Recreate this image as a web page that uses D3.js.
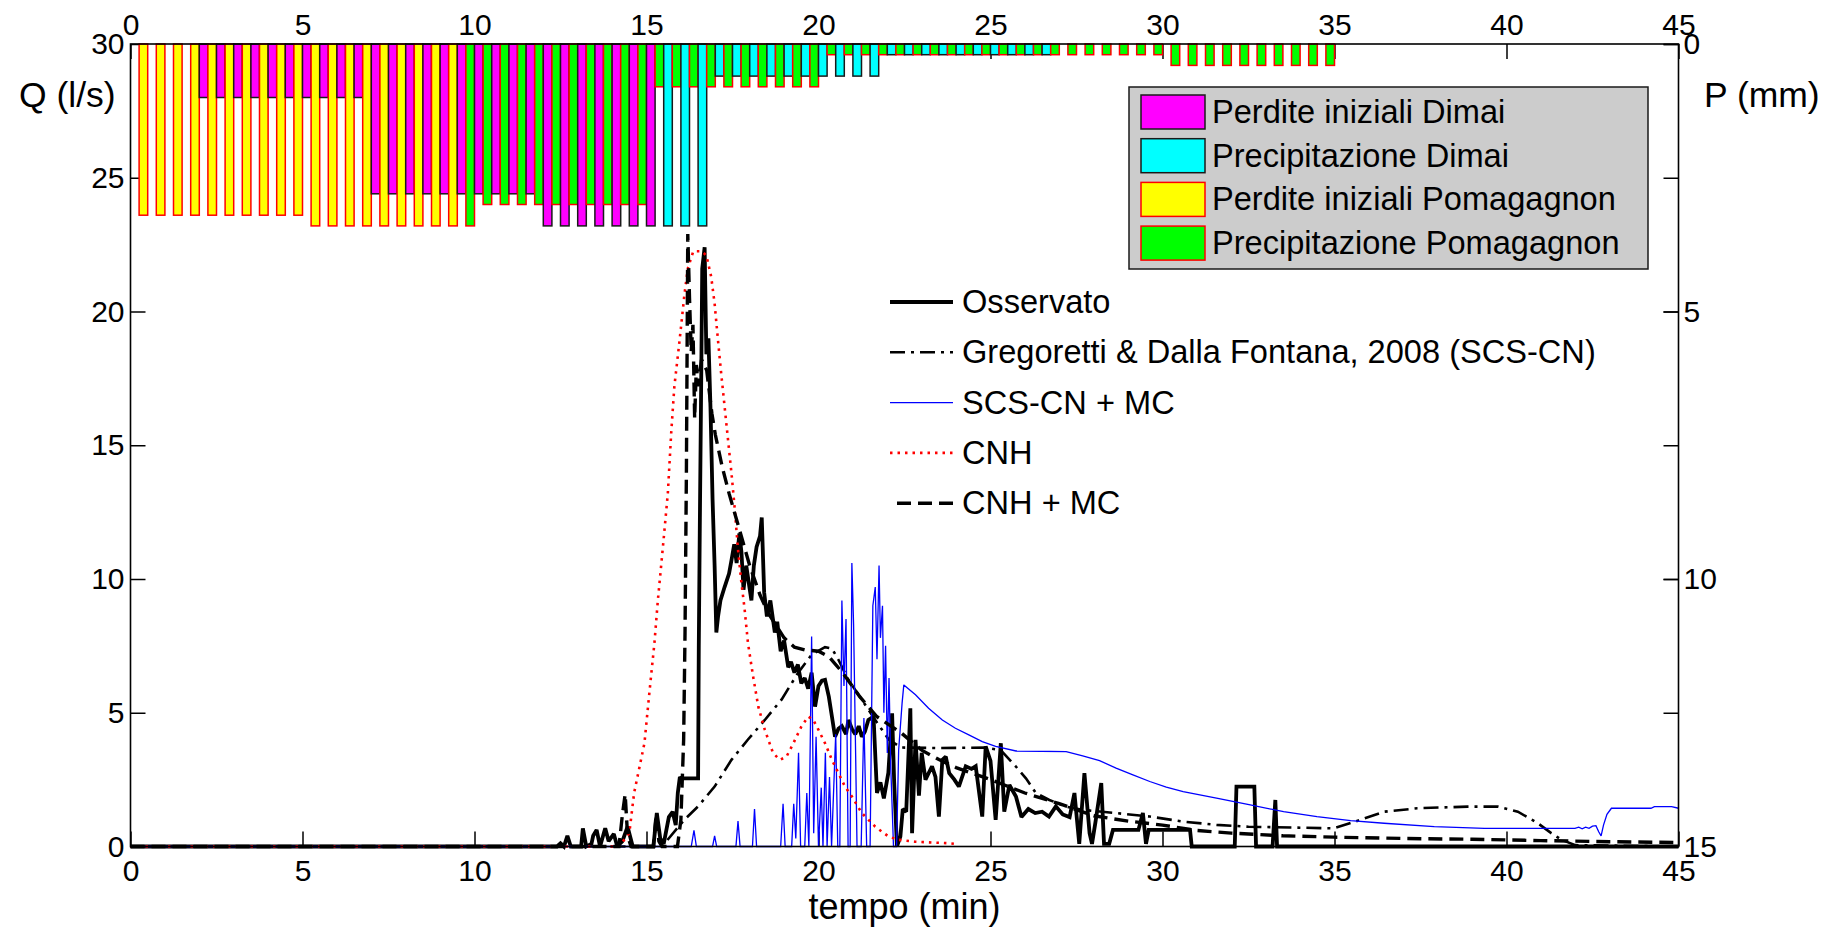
<!DOCTYPE html>
<html><head><meta charset="utf-8">
<script src="https://cdn.jsdelivr.net/npm/d3@7"></script>
<style>
body{margin:0;background:#fff}
svg text{font-family:"Liberation Sans",Arial,Helvetica,sans-serif;fill:#000}
</style>
</head><body>
<svg id="chart" width="1826" height="927"></svg>
<script>
// ---------------- DATA ----------------
const xTicks = [0,5,10,15,20,25,30,35,40,45];
const qTicks = [0,5,10,15,20,25,30];
const pTicks = [0,5,10,15];

// rainfall bars: 70 half-minute slots starting at 0, 0.5, ... (Dimai in first half, Pomagagnon in second half)
const barSlotStart = d3.range(0, 35, 0.5);
const dimaiPerdite = [0,0,0,0,1,1,1,1,1,1, 1,1,1,1,2.8,2.8,2.8,2.8,2.8,2.8, 2.8,2.8,2.8,2.8,3.4,3.4,3.4,3.4,3.4,3.4, 3.4,0,0,0,0,0,0,0,0,0, 0,0,0,0,0,0,0,0,0,0, 0,0,0,0,0,0,0,0,0,0, 0,0,0,0,0,0,0,0,0,0];
const dimaiPrecip  = [0,0,0,0,0,0,0,0,0,0, 0,0,0,0,0,0,0,0,0,0, 0,0,0,0,0,0,0,0,0,0, 0,3.4,3.4,3.4,0.6,0.6,0.6,0.6,0.6,0.6, 0.6,0.6,0.6,0.6,0.2,0.2,0.2,0.2,0.2,0.2, 0.2,0.2,0.2,0.2,0,0,0,0,0,0, 0,0,0,0,0,0,0,0,0,0];
const pomPerdite   = [3.2,3.2,3.2,3.2,3.2,3.2,3.2,3.2,3.2,3.2, 3.4,3.4,3.4,3.4,3.4,3.4,3.4,3.4,3.4,0, 0,0,0,0,0,0,0,0,0,0, 0,0,0,0,0,0,0,0,0,0, 0,0,0,0,0,0,0,0,0,0, 0,0,0,0,0,0,0,0,0,0, 0,0,0,0,0,0,0,0,0,0];
const pomPrecip    = [0,0,0,0,0,0,0,0,0,0, 0,0,0,0,0,0,0,0,0,3.4, 3,3,3,3,3,3,3,3,3,3, 0.8,0.8,0.8,0.8,0.8,0.8,0.8,0.8,0.8,0.8, 0.2,0.2,0.2,0.2,0.2,0.2,0.2,0.2,0.2,0.2, 0.2,0.2,0.2,0.2,0.2,0.2,0.2,0.2,0.2,0.2, 0.4,0.4,0.4,0.4,0.4,0.4,0.4,0.4,0.4,0.4];

// discharge series [tempo (min), Q (l/s)]
const osservato = [[0,0],[12.4,0],[12.5,0.12],[12.6,0],[12.7,0.4],[12.8,0],[13.1,0],[13.15,0.68],[13.25,0],[13.4,0.1],[13.45,0.4],[13.55,0.62],[13.65,0],[13.8,0.68],[13.9,0.2],[14.05,0.47],[14.15,0],[14.3,0.2],[14.45,0.74],[14.6,0],[15.2,0],[15.3,1.25],[15.4,0.3],[15.5,0.1],[15.65,1.1],[15.76,1.3],[15.85,0.8],[15.91,2.0],[15.97,2.6],[16.0,2.55],[16.5,2.55],[16.52,7.5],[16.55,12],[16.58,16],[16.62,21.6],[16.69,22.4],[16.74,18.4],[16.8,19],[16.86,16.4],[16.92,13.0],[16.98,10.5],[17.03,8.0],[17.08,8.6],[17.15,9.2],[17.27,9.7],[17.4,10.2],[17.47,10.7],[17.55,11.3],[17.62,10.6],[17.7,11.7],[17.76,11.0],[17.82,9.6],[17.9,10.5],[17.98,9.8],[18.05,9.2],[18.12,10.5],[18.2,11.2],[18.3,11.6],[18.35,12.3],[18.42,9.5],[18.5,8.6],[18.6,9.2],[18.73,8.0],[18.8,8.4],[18.9,7.3],[19.0,7.7],[19.12,6.7],[19.2,6.9],[19.3,6.5],[19.4,6.8],[19.5,6.1],[19.6,6.3],[19.7,5.9],[19.8,6.5],[19.9,5.23],[20.0,6.0],[20.1,6.2],[20.19,6.23],[20.3,5.6],[20.39,4.86],[20.48,4.1],[20.58,4.4],[20.68,4.5],[20.8,4.2],[20.87,4.73],[20.97,4.4],[21.07,4.2],[21.17,4.5],[21.26,4.1],[21.35,4.3],[21.45,4.73],[21.6,4.86],[21.7,2.0],[21.8,2.4],[21.9,1.8],[22.03,2.75],[22.14,4.98],[22.2,2.4],[22.28,0],[22.38,0.37],[22.45,1.4],[22.55,1.3],[22.67,5.17],[22.72,0.5],[22.82,3.99],[22.92,1.9],[23.0,3.5],[23.11,2.5],[23.3,3.0],[23.4,2.6],[23.5,1.12],[23.6,3.24],[23.7,3.36],[23.8,2.74],[23.95,2.5],[24.08,2.24],[24.28,3.0],[24.45,2.9],[24.57,3.0],[24.76,1.12],[24.86,3.74],[25.0,3.2],[25.15,1.0],[25.3,3.86],[25.4,1.3],[25.55,2.3],[25.74,1.87],[25.9,1.1],[26.1,1.4],[26.3,1.25],[26.5,1.3],[26.7,1.12],[26.9,1.5],[27.1,1.2],[27.3,1.1],[27.44,2.0],[27.58,0.1],[27.73,2.74],[27.88,0.5],[27.95,0.1],[28.05,0.9],[28.22,2.37],[28.3,0.1],[28.45,0.1],[28.56,0.62],[29.3,0.62],[29.43,1.25],[29.52,0.1],[29.6,0.62],[30.8,0.62],[30.85,0],[32.1,0],[32.15,2.24],[32.67,2.24],[32.72,0],[33.2,0],[33.28,1.74],[33.33,0],[45,0]];

const gregoretti = [[0,0],[15.45,0],[16.1,1.0],[16.5,1.5],[16.98,2.24],[17.47,3.24],[17.95,4.0],[18.44,4.73],[18.93,5.5],[19.41,6.5],[19.8,7.17],[20.19,7.45],[20.39,7.4],[20.58,6.98],[20.87,6.23],[21.26,5.49],[21.65,4.73],[22.04,4.0],[22.4,3.7],[23.5,3.68],[24.85,3.7],[25.3,3.6],[25.73,3.0],[26.03,2.55],[26.32,2.0],[26.71,1.74],[27.2,1.49],[27.68,1.37],[28.65,1.25],[29.63,1.12],[30.6,0.93],[31.57,0.81],[32.5,0.74],[34.98,0.68],[35.76,1.0],[36.44,1.3],[37.41,1.43],[38.87,1.49],[39.75,1.49],[40.33,1.3],[40.91,0.87],[41.3,0.5],[41.6,0.25],[42,0.05],[45,0]];

const scsMc = [[0,0],[16.3,0],[16.38,0.6],[16.45,0],[16.92,0],[16.98,0.4],[17.04,0],[17.6,0],[17.66,0.95],[17.72,0],[18.08,0],[18.14,1.4],[18.2,0],[18.9,0],[18.97,1.6],[19.03,0],[19.22,0],[19.28,1.6],[19.34,0.3],[19.42,3.5],[19.48,0],[19.6,0],[19.66,2.0],[19.72,0],[19.8,7.85],[19.86,0.5],[19.93,4.1],[20.0,0],[20.08,2.2],[20.13,0],[20.2,3.5],[20.25,0],[20.32,2.6],[20.38,0],[20.5,4.2],[20.56,0],[20.62,0],[20.68,9.2],[20.74,6.0],[20.8,8.5],[20.86,0],[20.92,0],[20.97,10.6],[21.02,8.3],[21.08,3.4],[21.12,0],[21.24,0],[21.32,4.8],[21.4,0],[21.5,0],[21.58,9.0],[21.65,9.7],[21.7,7.0],[21.76,10.5],[21.8,7.8],[21.86,9.0],[21.9,5.0],[21.95,7.5],[22.0,3.5],[22.05,6.3],[22.1,3.0],[22.18,0],[22.27,0],[22.33,3.6],[22.43,5.36],[22.48,6.04],[22.82,5.67],[23.2,5.17],[23.6,4.73],[23.98,4.42],[24.37,4.17],[24.76,3.92],[25.15,3.74],[25.74,3.57],[27.2,3.55],[27.68,3.39],[28.17,3.21],[28.65,2.93],[29.14,2.68],[29.63,2.43],[30.11,2.22],[30.6,2.05],[31.57,1.81],[32.55,1.56],[33.52,1.3],[34.49,1.12],[35.47,0.97],[36.44,0.87],[37.9,0.74],[39.36,0.68],[41.99,0.68],[42.1,0.72],[42.2,0.66],[42.3,0.72],[42.4,0.68],[42.5,0.76],[42.6,0.78],[42.68,0.55],[42.75,0.4],[42.82,0.8],[42.92,1.2],[43.05,1.43],[44.2,1.43],[44.3,1.49],[44.8,1.49],[45,1.43]];

const cnh = [[0,0],[14.2,0],[14.5,0.5],[14.64,2.0],[14.94,3.86],[15.08,5.7],[15.23,7.6],[15.33,9.2],[15.47,11.1],[15.62,13.2],[15.72,15.5],[15.81,17.2],[15.96,18.9],[16.1,20.6],[16.2,21.6],[16.36,22.25],[16.6,22.25],[16.74,22.1],[16.88,21.3],[16.98,20.3],[17.08,18.9],[17.17,17.7],[17.27,16.45],[17.37,15.2],[17.47,13.96],[17.56,12.7],[17.66,11.1],[17.76,9.85],[17.85,8.9],[17.95,7.6],[18.1,6.35],[18.25,5.23],[18.44,4.36],[18.68,3.49],[18.88,3.24],[19.07,3.36],[19.27,3.86],[19.5,4.48],[19.7,4.86],[19.85,4.73],[20.0,4.36],[20.19,3.86],[20.39,3.24],[20.58,2.74],[20.77,2.24],[20.97,1.87],[21.26,1.25],[21.65,0.74],[22.04,0.37],[22.33,0.25],[22.8,0.18],[23.8,0.12],[23.95,0.1]];

const cnhMc = [[0,0],[14.2,0],[14.3,1.2],[14.38,1.95],[14.45,0.4],[14.55,0],[15.2,0],[15.28,1.2],[15.36,0.2],[15.45,0],[15.9,0],[16.0,1.0],[16.08,4.0],[16.12,8.0],[16.16,14],[16.2,22.9],[16.25,20.5],[16.3,18.5],[16.35,19.5],[16.4,16.0],[16.45,18.0],[16.5,17.2],[16.6,18.2],[16.75,17.8],[16.9,16.2],[17.0,15.4],[17.2,14.2],[17.4,13.2],[17.6,12.3],[17.8,11.4],[18.0,10.5],[18.3,9.4],[18.55,8.7],[19.0,7.8],[19.3,7.45],[19.6,7.35],[20.0,7.3],[20.3,7.1],[20.7,6.5],[21.2,5.6],[21.7,4.85],[22.4,4.25],[23.0,3.6],[23.5,3.25],[24.0,2.95],[25.0,2.5],[26.0,2.0],[27.0,1.6],[28.0,1.15],[29.0,0.95],[30.0,0.8],[31.0,0.6],[32.0,0.5],[33.5,0.4],[35.0,0.35],[37.0,0.3],[39.0,0.27],[41.0,0.22],[43.0,0.18],[45.0,0.15]];

const barLegend = ["Perdite iniziali Dimai","Precipitazione Dimai","Perdite iniziali Pomagagnon","Precipitazione Pomagagnon"];
const lineLegend = ["Osservato","Gregoretti & Dalla Fontana, 2008 (SCS-CN)","SCS-CN + MC","CNH","CNH + MC"];

// ---------------- LAYOUT / STYLE ----------------
const L = 130.5, R = 1678.5, T = 44, B = 846.5;
const x = d3.scaleLinear().domain([0,45]).range([L,R]);
const yQ = d3.scaleLinear().domain([0,30]).range([B,T]);
const yP = d3.scaleLinear().domain([0,15]).range([T,B]);

const svg = d3.select("#chart");
svg.append("rect").attr("width",1826).attr("height",927).attr("fill","#fff");

function styleAxis(g, fs){
  g.select(".domain").remove();
  g.selectAll(".tick line").attr("stroke","#000").attr("stroke-width",1.5);
  g.selectAll(".tick text").attr("font-size",fs).attr("fill","#000");
}
const TS = -15;
svg.append("g").attr("transform",`translate(${L},0)`)
  .call(d3.axisLeft(yQ).tickValues(qTicks).tickSizeInner(TS).tickSizeOuter(0).tickPadding(6))
  .call(g=>styleAxis(g,30));
svg.append("g").attr("transform",`translate(${R},0)`)
  .call(d3.axisRight(yQ).tickValues(qTicks).tickSizeInner(TS).tickSizeOuter(0).tickFormat(""))
  .call(g=>styleAxis(g,30));
svg.append("g").attr("transform",`translate(${R},0)`)
  .call(d3.axisRight(yP).tickValues(pTicks).tickSizeInner(TS).tickSizeOuter(0).tickPadding(5))
  .call(g=>styleAxis(g,30));
svg.append("g").attr("transform",`translate(0,${B})`)
  .call(d3.axisBottom(x).tickValues(xTicks).tickSizeInner(TS).tickSizeOuter(0).tickPadding(13))
  .call(g=>styleAxis(g,30));
svg.append("g").attr("transform",`translate(0,${T})`)
  .call(d3.axisTop(x).tickValues(xTicks).tickSizeInner(TS).tickSizeOuter(0).tickPadding(9))
  .call(g=>styleAxis(g,30));

// ---------------- BARS ----------------
const barW = 0.25;
const bars = [];
barSlotStart.forEach((t,i)=>{
  const dp = dimaiPerdite[i], dr = dimaiPrecip[i], pp = pomPerdite[i], pr = pomPrecip[i];
  if(dp>0) bars.push({t0:t, t1:t+barW, v0:0, v1:dp, fill:"#ff00ff", stroke:"#1a1a1a"});
  if(dr>0) bars.push({t0:t, t1:t+barW, v0:dp, v1:dp+dr, fill:"#00ffff", stroke:"#1a1a1a"});
  if(pp>0) bars.push({t0:t+barW, t1:t+2*barW, v0:0, v1:pp, fill:"#ffff00", stroke:"#ff0000"});
  if(pr>0) bars.push({t0:t+barW, t1:t+2*barW, v0:pp, v1:pp+pr, fill:"#00ff00", stroke:"#ff0000"});
});
svg.append("g").selectAll("rect").data(bars).join("rect")
  .attr("x",d=>x(d.t0)).attr("width",d=>x(d.t1)-x(d.t0))
  .attr("y",d=>yP(d.v0)).attr("height",d=>yP(d.v1)-yP(d.v0))
  .attr("fill",d=>d.fill).attr("stroke",d=>d.stroke).attr("stroke-width",1.5);

// ---------------- LINES ----------------
const line = d3.line().x(d=>x(d[0])).y(d=>yQ(d[1]));
const styles = [
  {data:osservato, stroke:"#000", w:3.8, dash:null},
  {data:gregoretti, stroke:"#000", w:2.6, dash:"15,6,3,6"},
  {data:scsMc, stroke:"#0000ff", w:1.3, dash:null},
  {data:cnh, stroke:"#ff0000", w:2.6, dash:"2.5,5"},
  {data:cnhMc, stroke:"#000", w:3.4, dash:"14,7"}
];
const lg = svg.append("g");
styles.forEach(s=>{
  lg.append("path").attr("d",line(s.data)).attr("fill","none")
    .attr("stroke",s.stroke).attr("stroke-width",s.w)
    .attr("stroke-dasharray",s.dash).attr("stroke-linejoin","miter").attr("stroke-miterlimit",2);
});

// box
svg.append("rect").attr("x",L).attr("y",T).attr("width",R-L).attr("height",B-T)
  .attr("fill","none").attr("stroke","#000").attr("stroke-width",1.6);

// ---------------- BAR LEGEND ----------------
const legFills = ["#ff00ff","#00ffff","#ffff00","#00ff00"];
const legStrokes = ["#1a1a1a","#1a1a1a","#ff0000","#ff0000"];
const bl = svg.append("g");
bl.append("rect").attr("x",1129).attr("y",87).attr("width",519).attr("height",182)
  .attr("fill","#cccccc").attr("stroke","#1a1a1a").attr("stroke-width",1.5);
barLegend.forEach((name,i)=>{
  const cy = 112 + i*43.7;
  bl.append("rect").attr("x",1141).attr("y",cy-17).attr("width",64).attr("height",34)
    .attr("fill",legFills[i]).attr("stroke",legStrokes[i]).attr("stroke-width",1.5);
  bl.append("text").attr("x",1212).attr("y",cy+11).attr("font-size",32.6).text(name);
});

// ---------------- LINE LEGEND ----------------
const ll = svg.append("g");
lineLegend.forEach((name,i)=>{
  const cy = 302 + i*50.3;
  const s = styles[i];
  ll.append("line").attr("x1", i===4?897:890).attr("x2",953).attr("y1",cy).attr("y2",cy)
    .attr("stroke",s.stroke).attr("stroke-width",s.w).attr("stroke-dasharray",s.dash);
  ll.append("text").attr("x",962).attr("y",cy+11).attr("font-size",32.6).text(name);
});

// ---------------- AXIS LABELS ----------------
svg.append("text").attr("x",19).attr("y",107).attr("font-size",35.5).text("Q (l/s)");
svg.append("text").attr("x",1704).attr("y",107).attr("font-size",35.5).text("P (mm)");
svg.append("text").attr("x",(L+R)/2).attr("y",919).attr("font-size",36).attr("text-anchor","middle").text("tempo (min)");
</script>
</body></html>
